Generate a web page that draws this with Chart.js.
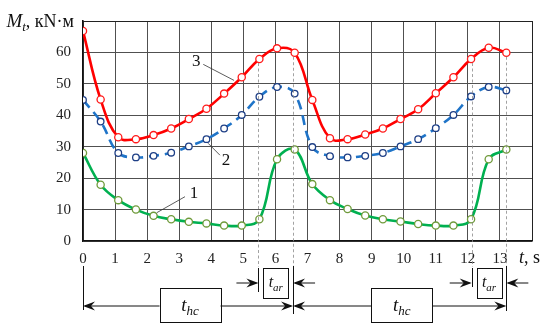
<!DOCTYPE html>
<html><head><meta charset="utf-8">
<script src="https://cdn.jsdelivr.net/npm/chart.js@4/dist/chart.umd.min.js"></script>
<style>html,body{margin:0;padding:0;background:#fff}#wrap{width:550px;height:333px}</style>
</head><body><div id="wrap"><canvas id="c" width="550" height="333"></canvas></div>
<script>
// time, s
const times = [0,0.55,1.1,1.65,2.2,2.75,3.3,3.85,4.4,4.95,5.5,6.05,6.6,7.15,7.7,8.25,8.8,9.35,9.9,10.45,11,11.55,12.1,12.65,13.2];
// curve 3 (red), curve 2 (blue dashed), curve 1 (green), kN·m
const curve3 = [66.8,45,33,32.4,33.7,35.8,38.8,42.1,46.9,52.1,57.9,61.3,59.9,44.9,32.7,32.4,33.9,35.8,38.8,41.9,47,52.1,57.9,61.5,59.9];
const curve2 = [44.9,38,28,26.6,27.1,28.1,30.1,32.4,35.8,40.1,45.9,49,46.9,29.9,27,26.6,27.1,28,30.1,32.4,35.9,40.1,46,49,47.9];
const curve1 = [28,17.9,13,10,8,6.9,6.1,5.6,4.9,4.9,6.9,26,29.1,18.1,13,10.2,8.1,6.9,6.2,5.4,4.9,4.9,6.9,26,29.1];
const xTicks = [0,1,2,3,4,5,6,7,8,9,10,11,12,13];
const yTicks = [0,10,20,30,40,50,60];
// interval boundaries (s)
const tarIntervals = [[5.47,6.55],[12.12,13.2]];
const thcIntervals = [[0,6.55],[6.55,13.2]];
const dashIdx = [10,12,22,24]; // red points the dashed guides start from
const curveLabels = [
  {text:'3', at:[3.53,57.0], from:[3.75,56.2], to:[4.71,51.1]},
  {text:'2', at:[4.46,25.7], from:[3.9,31.1], to:[4.27,27.3]},
  {text:'1', at:[3.46,15.1], from:[3.18,14.1], to:[2.3,9.0]}
];

const pts = arr => arr.map((v,i)=>({x:times[i], y:v}));
const SERIF = '"Liberation Serif","DejaVu Serif",serif';

function arrowHead(ctx, x, y, dir){ // dir=+1 pointing right, -1 left
  ctx.beginPath();
  ctx.moveTo(x, y);
  ctx.lineTo(x - dir*12, y - 4.5);
  ctx.lineTo(x - dir*8, y);
  ctx.lineTo(x - dir*12, y + 4.5);
  ctx.closePath();
  ctx.fill();
}
function subText(ctx, main, sub, x, y, size, align){ // italic main + italic subscript
  ctx.font = 'italic ' + size + 'px ' + SERIF;
  const w1 = ctx.measureText(main).width;
  ctx.font = 'italic ' + Math.round(size*0.7) + 'px ' + SERIF;
  const w2 = ctx.measureText(sub).width;
  let x0 = align === 'center' ? x - (w1+w2)/2 : x;
  ctx.textAlign = 'left';
  ctx.textBaseline = 'alphabetic';
  ctx.font = 'italic ' + size + 'px ' + SERIF;
  ctx.fillText(main, x0, y);
  ctx.font = 'italic ' + Math.round(size*0.7) + 'px ' + SERIF;
  ctx.fillText(sub, x0 + w1, y + size*0.22);
  return w1 + w2;
}

const overlay = {
  id:'overlay',
  afterDraw(chart){
    const ctx = chart.ctx, xs = chart.scales.x, ys = chart.scales.y, ca = chart.chartArea;
    const B = ca.bottom;
    ctx.save();
    // dashed guides
    ctx.strokeStyle = '#8a8a8a'; ctx.lineWidth = 0.8; ctx.setLineDash([3,2.5]);
    const guideX = [tarIntervals[0][0], tarIntervals[0][1], tarIntervals[1][0], tarIntervals[1][1]];
    guideX.forEach((t,k)=>{
      const px = Math.round(xs.getPixelForValue(t))+0.5;
      ctx.beginPath(); ctx.moveTo(px, ys.getPixelForValue(curve3[dashIdx[k]])+4); ctx.lineTo(px, B+26); ctx.stroke();
    });
    ctx.setLineDash([]);
    // boundary solid lines
    ctx.strokeStyle = '#111'; ctx.fillStyle = '#111'; ctx.lineWidth = 1;
    const bounds = [[0,25,69],[tarIntervals[0][0],27,51],[tarIntervals[0][1],25,73],[tarIntervals[1][0],27,46],[tarIntervals[1][1],25,70]];
    bounds.forEach(b=>{
      const px = Math.round(xs.getPixelForValue(b[0]))+0.5;
      ctx.beginPath(); ctx.moveTo(px, B+b[1]); ctx.lineTo(px, B+b[2]); ctx.stroke();
    });
    // t_ar
    const rowA = B + 42;
    tarIntervals.forEach(iv=>{
      const a = xs.getPixelForValue(iv[0]), b = xs.getPixelForValue(iv[1]);
      ctx.beginPath(); ctx.moveTo(a-22, rowA); ctx.lineTo(a-2, rowA); ctx.stroke();
      arrowHead(ctx, a, rowA, 1);
      ctx.beginPath(); ctx.moveTo(b+22, rowA); ctx.lineTo(b+2, rowA); ctx.stroke();
      arrowHead(ctx, b, rowA, -1);
      const c = (a+b)/2;
      ctx.strokeRect(Math.round(c-12.5)+0.5, B+27.5, 25, 30);
      subText(ctx, 't', 'ar', c, rowA+4, 16, 'center');
    });
    // t_hc
    const rowH = B + 65;
    thcIntervals.forEach(iv=>{
      const a = xs.getPixelForValue(iv[0]), b = xs.getPixelForValue(iv[1]);
      const c = (a+b)/2 + 2;
      const bl = c - 30.5, br = c + 30.5;
      ctx.beginPath(); ctx.moveTo(bl, rowH); ctx.lineTo(a+2, rowH); ctx.stroke();
      arrowHead(ctx, a, rowH, -1);
      ctx.beginPath(); ctx.moveTo(br, rowH); ctx.lineTo(b-2, rowH); ctx.stroke();
      arrowHead(ctx, b, rowH, 1);
      ctx.strokeRect(Math.round(bl)+0.5, B+47.5, 61, 34);
      subText(ctx, 't', 'hc', c, rowH+5, 19, 'center');
    });
    // curve number labels
    ctx.lineWidth = 0.8; ctx.strokeStyle = '#333';
    curveLabels.forEach(l=>{
      ctx.beginPath();
      ctx.moveTo(xs.getPixelForValue(l.from[0]), ys.getPixelForValue(l.from[1]));
      ctx.lineTo(xs.getPixelForValue(l.to[0]), ys.getPixelForValue(l.to[1]));
      ctx.stroke();
      ctx.font = '17px ' + SERIF; ctx.fillStyle = '#111';
      ctx.textAlign = 'center'; ctx.textBaseline = 'middle';
      ctx.fillText(l.text, xs.getPixelForValue(l.at[0]), ys.getPixelForValue(l.at[1]));
    });
    // axis titles
    ctx.fillStyle = '#111';
    // y: M_t, kN·м (right end near x≈74)
    ctx.font = '18px ' + SERIF;
    const restW = ctx.measureText(', кN·м').width;
    ctx.font = 'italic 19px ' + SERIF; const mW = ctx.measureText('M').width;
    ctx.font = 'italic 13px ' + SERIF; const tW = ctx.measureText('t').width;
    const yx0 = ca.left - 9 - (mW + tW + restW);
    const wsub = subText(ctx, 'M', 't', yx0, 27, 19, 'left');
    ctx.font = '18px ' + SERIF; ctx.textAlign='left'; ctx.textBaseline='alphabetic';
    ctx.fillText(', кN·м', yx0 + wsub, 27);
    // x: t, s
    const tx = xs.getPixelForValue(14) - 13;
    ctx.font = 'italic 18px ' + SERIF; ctx.fillText('t', tx, 263);
    const ttw = ctx.measureText('t').width;
    ctx.font = '18px ' + SERIF; ctx.fillText(', s', tx + ttw, 263);
    ctx.restore();
  }
};

new Chart(document.getElementById('c'), {
  type:'line',
  data:{ datasets:[
    {label:'1', data:pts(curve1), borderColor:'#00b050', borderWidth:2.6, pointRadius:3.6, pointBorderWidth:1.3,
     pointBorderColor:'#6f9a3a', pointBackgroundColor:'#fff', tension:0.4, order:3},
    {label:'2', data:pts(curve2), borderColor:'#1f74c8', borderWidth:2.6, borderDash:[10,6], pointRadius:3.3, pointBorderWidth:1.3,
     pointBorderColor:'#1e3f86', pointBackgroundColor:'#fff', tension:0.4, order:2},
    {label:'3', data:pts(curve3), borderColor:'#ff0000', borderWidth:2.6, pointRadius:3.6, pointBorderWidth:1.3,
     pointBorderColor:'#ff1a1a', pointBackgroundColor:'#fff', tension:0.4, order:1}
  ]},
  options:{
    responsive:false, animation:false, devicePixelRatio:1,
    layout:{padding:{top:12, right:18, left:0, bottom:0}},
    plugins:{legend:{display:false}, tooltip:{enabled:false}},
    scales:{
      x:{type:'linear', min:0, max:14,
        afterBuildTicks: s => { s.ticks = xTicks.concat([14]).map(v=>({value:v})); },
        afterFit: s => { s.height = 92; },
        ticks:{callback: v => xTicks.includes(v) ? String(v) : '', padding:9, color:'#222', maxRotation:0, autoSkip:false,
          font:{family:SERIF, size:15}},
        grid:{drawTicks:false, color: c => c.tick && c.tick.value===14 ? '#222' : '#505050', lineWidth:1},
        border:{color:'#111', width:1.6}
      },
      y:{type:'linear', min:0, max:70,
        afterBuildTicks: s => { s.ticks = yTicks.concat([70]).map(v=>({value:v})); },
        afterFit: s => { s.width = 83; },
        ticks:{callback: v => yTicks.includes(v) ? String(v) : '', padding:12, color:'#222',
          font:{family:SERIF, size:15}},
        grid:{drawTicks:false, color: c => c.tick && c.tick.value===70 ? '#222' : '#505050', lineWidth:1},
        border:{color:'#111', width:1.6}
      }
    }
  },
  plugins:[overlay]
});
</script></body></html>
